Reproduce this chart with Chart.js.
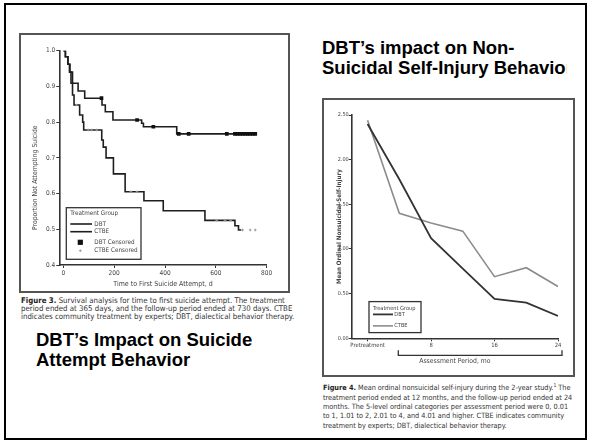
<!DOCTYPE html>
<html>
<head>
<meta charset="utf-8">
<script src="https://cdn.jsdelivr.net/npm/chart.js@4.4.1/dist/chart.umd.min.js"></script>
<style>
  html, body { margin: 0; padding: 0; background: #fff; }
  body { width: 590px; height: 443px; position: relative; overflow: hidden;
         font-family: 'Liberation Sans', Arial, Helvetica, sans-serif; }
  .frame { position: absolute; left: 4px; top: 3px; width: 583px; height: 437px;
           border: 2px solid #000; box-sizing: border-box; }
  .fig { position: absolute; border: 2px solid #555; box-sizing: border-box; }
  .title { position: absolute; font-weight: bold; font-size: 18.5px; line-height: 20px;
           color: #000; white-space: nowrap; overflow: hidden; }
  .cap { position: absolute; font-family: 'Liberation Sans Narrow', 'Arial Narrow', 'DejaVu Sans Condensed', sans-serif;
         color: #333; white-space: nowrap; }
  .cap b { color: #222; }
  canvas { position: absolute; }
</style>
</head>
<body>
<div class="frame"></div>

<!-- Survival figure -->
<div class="fig" style="left:19px; top:33px; width:271px; height:260px;"></div>
<canvas id="survival" width="271" height="260" style="left:19px; top:33px;"></canvas>
<div class="cap" style="left:21px; top:297px; font-size:7.8px; line-height:7.8px;">
  <b>Figure 3.</b> Survival analysis for time to first suicide attempt. The treatment<br>
  period ended at 365 days, and the follow-up period ended at 730 days. CTBE<br>
  indicates community treatment by experts; DBT, dialectical behavior therapy.
</div>
<div class="title" style="left:36px; top:330px;">DBT’s Impact on Suicide<br>Attempt Behavior</div>

<!-- Self-injury figure -->
<div class="title" style="left:322px; top:38px; width:245px;">DBT’s impact on Non-<br>Suicidal Self-Injury Behavior</div>
<div class="fig" style="left:322px; top:98px; width:253px; height:279px;"></div>
<canvas id="nssi" width="253" height="279" style="left:322px; top:98px;"></canvas>
<div class="cap" style="left:323px; top:381px; font-size:7.25px; line-height:9.3px;">
  <b>Figure 4.</b> Mean ordinal nonsuicidal self-injury during the 2-year study.<sup style="font-size:5px">1</sup> The<br>
  treatment period ended at 12 months, and the follow-up period ended at 24<br>
  months. The 5-level ordinal categories per assessment period were 0, 0.01<br>
  to 1, 1.01 to 2, 2.01 to 4, and 4.01 and higher. CTBE indicates community<br>
  treatment by experts; DBT, dialectical behavior therapy.
</div>

<script>
// ---- Time to first suicide attempt (Kaplan-Meier steps) ----
const dbtDays        = [0, 8, 18, 26, 36, 58, 84, 152, 165, 195, 308, 315, 446, 760];
const dbtSurvival    = [1.0, 0.983, 0.962, 0.94, 0.909, 0.887, 0.867, 0.848, 0.829, 0.806, 0.797, 0.787, 0.767, 0.767];
const ctbeDays       = [0, 8, 18, 24, 30, 36, 42, 64, 76, 80, 151, 157, 168, 197, 243, 317, 393, 557, 675, 689, 700];
const ctbeSurvival   = [1.0, 0.983, 0.962, 0.94, 0.909, 0.876, 0.848, 0.82, 0.80, 0.778, 0.75, 0.73, 0.70, 0.655, 0.605, 0.58, 0.552, 0.525, 0.51, 0.498, 0.498];
const dbtCensDays    = [150, 290, 354, 454, 493, 643, 675, 685, 695, 705, 715, 725, 735, 745, 755];
const dbtCensSurv    = [0.867, 0.806, 0.787, 0.767, 0.767, 0.767, 0.767, 0.767, 0.767, 0.767, 0.767, 0.767, 0.767, 0.767, 0.767];
const ctbeCensDays   = [52, 98, 111, 131, 265, 290, 603, 636, 658, 705, 735, 755];
const ctbeCensSurv   = [0.848, 0.778, 0.778, 0.778, 0.605, 0.605, 0.525, 0.525, 0.525, 0.498, 0.498, 0.498];
const dayTicks       = [0, 200, 400, 600, 800];
const survivalTicks  = [0.4, 0.5, 0.6, 0.7, 0.8, 0.9, 1.0];

// ---- Mean ordinal nonsuicidal self-injury by assessment period ----
const periods        = [0, 4, 8, 12, 16, 20, 24];
const periodLabels   = ['Pretreatment', '4', '8', '12', '16', '20', '24'];
const nssiDBT        = [2.40, 1.78, 1.12, 0.78, 0.44, 0.40, 0.25];
const nssiCTBE       = [2.44, 1.40, 1.29, 1.20, 0.69, 0.79, 0.58];
const nssiTicks      = [0, 0.5, 1.0, 1.5, 2.0, 2.5];

const NARROW = "'Liberation Sans Narrow', 'Arial Narrow', 'DejaVu Sans Condensed', sans-serif";
Chart.defaults.font.family = NARROW;
Chart.defaults.color = '#444';
Chart.defaults.animation = false;

const pts = (xs, ys) => xs.map((x, i) => ({ x, y: ys[i] }));

// Legend box drawn inside the plot area, bottom-left corner.
function insetLegend(cfg) {
  return {
    id: 'insetLegend',
    afterDraw(chart) {
      const { ctx, chartArea } = chart;
      const x = chartArea.left + cfg.left;
      const y = chartArea.bottom - cfg.bottom - cfg.height;
      ctx.save();
      ctx.fillStyle = '#fff';
      ctx.fillRect(x, y, cfg.width, cfg.height);
      ctx.strokeStyle = '#333';
      ctx.lineWidth = 1.3;
      ctx.strokeRect(x, y, cfg.width, cfg.height);
      ctx.font = cfg.font;
      ctx.fillStyle = '#444';
      ctx.textBaseline = 'middle';
      ctx.textAlign = 'left';
      ctx.fillText(cfg.title, x + cfg.pad, y + cfg.titleY);
      cfg.rows.forEach(row => {
        const ds = chart.data.datasets[row.dataset];
        const yy = y + row.y;
        if (row.kind === 'line') {
          ctx.strokeStyle = ds.borderColor;
          ctx.lineWidth = ds.borderWidth;
          ctx.beginPath();
          ctx.moveTo(x + cfg.pad, yy);
          ctx.lineTo(x + cfg.lineEnd, yy);
          ctx.stroke();
        } else {
          const r = ds.pointRadius;
          const mx = x + cfg.markerX;
          ctx.fillStyle = ds.backgroundColor;
          ctx.strokeStyle = ds.borderColor;
          ctx.lineWidth = ds.borderWidth;
          if (ds.pointStyle === 'rect') {
            ctx.fillRect(mx - r, yy - r, 2 * r, 2 * r);
          } else {
            ctx.beginPath();
            ctx.moveTo(mx - r, yy); ctx.lineTo(mx + r, yy);
            ctx.moveTo(mx, yy - r); ctx.lineTo(mx, yy + r);
            ctx.stroke();
          }
        }
        ctx.fillStyle = '#444';
        ctx.fillText(ds.label, x + cfg.textX, yy);
      });
      ctx.restore();
    }
  };
}

// Rotated axis caption placed relative to the plot area.
function sideTitle(text, dx, dy, font) {
  return {
    id: 'sideTitle',
    afterDraw(chart) {
      const { ctx, chartArea } = chart;
      ctx.save();
      ctx.translate(dx, chartArea.top + dy);
      ctx.rotate(-Math.PI / 2);
      ctx.font = font;
      ctx.fillStyle = '#444';
      ctx.textAlign = 'center';
      ctx.textBaseline = 'middle';
      ctx.fillText(text, 0, 0);
      ctx.restore();
    }
  };
}

// Bracket under the follow-up months.
const periodBracket = {
  id: 'periodBracket',
  afterDraw(chart) {
    const { ctx, chartArea, scales } = chart;
    const x0 = scales.x.getPixelForValue(periods[1]) - 1;
    const x1 = scales.x.getPixelForValue(periods[periods.length - 1]) + 4;
    const yTop = chartArea.bottom + 12;
    const yBot = chartArea.bottom + 17;
    ctx.save();
    ctx.strokeStyle = '#333';
    ctx.lineWidth = 1.3;
    ctx.beginPath();
    ctx.moveTo(x0, yTop); ctx.lineTo(x0, yBot); ctx.lineTo(x1, yBot); ctx.lineTo(x1, yTop);
    ctx.stroke();
    ctx.restore();
  }
};

const axisStyle = {
  grid: { display: true, drawOnChartArea: false, drawTicks: true, tickLength: 3, color: '#333', lineWidth: 1 },
  border: { display: true, color: '#333', width: 1.6 },
};

new Chart(document.getElementById('survival'), {
  type: 'scatter',
  data: {
    datasets: [
      { label: 'DBT', data: pts(dbtDays, dbtSurvival), showLine: true, stepped: true,
        borderColor: '#1e1e1e', borderWidth: 1.6, pointRadius: 0, order: 2 },
      { label: 'CTBE', data: pts(ctbeDays, ctbeSurvival), showLine: true, stepped: true,
        borderColor: '#1e1e1e', borderWidth: 1.6, pointRadius: 0, order: 3 },
      { label: 'DBT Censored', data: pts(dbtCensDays, dbtCensSurv), pointStyle: 'rect',
        pointRadius: 2.6, backgroundColor: '#111', borderColor: '#111', borderWidth: 0, order: 0 },
      { label: 'CTBE Censored', data: pts(ctbeCensDays, ctbeCensSurv), pointStyle: 'cross',
        pointRadius: 1.3, backgroundColor: '#999', borderColor: '#999', borderWidth: 1, order: 1 },
    ]
  },
  options: {
    responsive: false,
    layout: { padding: { top: 17.7, right: 23.3, left: 0, bottom: 0 } },
    plugins: { legend: { display: false }, tooltip: { enabled: false } },
    scales: {
      x: {
        type: 'linear', min: -16, max: 800, ...axisStyle,
        afterBuildTicks: s => { s.ticks = dayTicks.map(v => ({ value: v })); },
        afterFit: s => { s.height = 28; },
        ticks: { font: { size: 6.5 }, padding: 1, maxRotation: 0, color: '#444' },
        title: { display: true, text: 'Time to First Suicide Attempt, d', font: { size: 7 },
                 padding: { top: 0, bottom: 5 }, color: '#444' },
      },
      y: {
        type: 'linear', min: 0.4, max: 1.0, ...axisStyle,
        afterBuildTicks: s => { s.ticks = survivalTicks.map(v => ({ value: v })); },
        afterFit: s => { s.width = 40.3; },
        ticks: { font: { size: 6.5 }, padding: 1, color: '#444', callback: v => v.toFixed(1) },
      }
    }
  },
  plugins: [
    insetLegend({ left: 7, bottom: 5.7, width: 74.7, height: 51.6, font: `6.3px ${NARROW}`,
      title: 'Treatment Group', titleY: 6, pad: 4, lineEnd: 25.7, markerX: 14, textX: 28,
      rows: [
        { dataset: 0, kind: 'line', y: 16.3 },
        { dataset: 1, kind: 'line', y: 24 },
        { dataset: 2, kind: 'marker', y: 34.6 },
        { dataset: 3, kind: 'marker', y: 43 },
      ] }),
    sideTitle('Proportion Not Attempting Suicide', 16, 127, `6.8px ${NARROW}`),
  ]
});

new Chart(document.getElementById('nssi'), {
  type: 'line',
  data: {
    datasets: [
      { label: 'DBT', data: pts(periods, nssiDBT), borderColor: '#333', borderWidth: 1.8,
        pointRadius: 0, tension: 0 },
      { label: 'CTBE', data: pts(periods, nssiCTBE), borderColor: '#8c8c8c', borderWidth: 1.6,
        pointRadius: 0, tension: 0 },
    ]
  },
  options: {
    responsive: false,
    layout: { padding: { top: 17, right: 17, left: 0, bottom: 0 } },
    plugins: { legend: { display: false }, tooltip: { enabled: false } },
    scales: {
      x: {
        type: 'linear', min: -2, max: 24, ...axisStyle,
        afterBuildTicks: s => { s.ticks = periods.map(v => ({ value: v })); },
        afterFit: s => { s.height = 38.7; },
        ticks: { font: { size: 5.8 }, padding: 1, maxRotation: 0, color: '#444',
                 callback: v => periodLabels[periods.indexOf(v)] },
        title: { display: true, text: 'Assessment Period, mo', font: { size: 6.8 },
                 padding: { top: 0, bottom: 11.5 }, color: '#444' },
      },
      y: {
        type: 'linear', min: 0, max: 2.5, ...axisStyle,
        afterBuildTicks: s => { s.ticks = nssiTicks.map(v => ({ value: v })); },
        afterFit: s => { s.width = 29.7; },
        ticks: { font: { size: 5.5 }, padding: 0, color: '#444', callback: v => v.toFixed(2) },
        title: { display: true, text: 'Mean Ordinal Nonsuicidal Self-Injury',
                 font: { size: 6.2, weight: 'bold' }, padding: { top: 13.5, bottom: 0 }, color: '#444' },
      }
    }
  },
  plugins: [
    insetLegend({ left: 17.3, bottom: 5.7, width: 52, height: 31, font: `5.6px ${NARROW}`,
      title: 'Treatment Group', titleY: 6.6, pad: 4, lineEnd: 24, markerX: 12, textX: 25.3,
      rows: [
        { dataset: 0, kind: 'line', y: 12.8 },
        { dataset: 1, kind: 'line', y: 24.3 },
      ] }),
    periodBracket,
  ]
});
</script>
</body>
</html>
